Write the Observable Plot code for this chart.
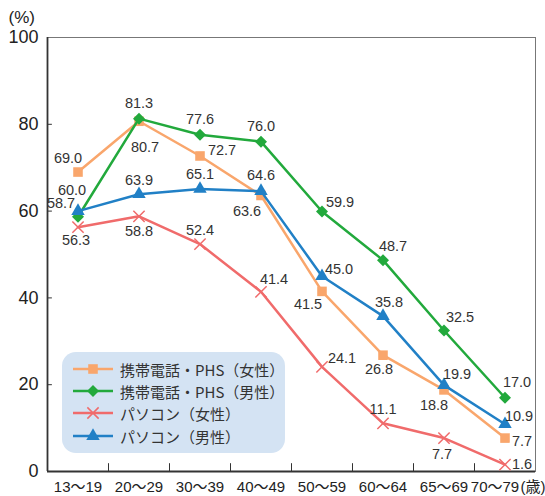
<!DOCTYPE html>
<html>
<head>
<meta charset="utf-8">
<script src="https://cdn.jsdelivr.net/npm/d3@7"></script>
<script src="https://cdn.jsdelivr.net/npm/@observablehq/plot@0.6"></script>
<style>
  body { margin: 0; background: #fff; }
  #wrap { position: relative; width: 545px; height: 496px; font-family: "Liberation Sans", "Noto Sans CJK JP", sans-serif; }
  #legend { position: absolute; left: 62px; top: 352px; width: 223px; height: 101px; background: #d4e3f3; border-radius: 14px; }
  .row { position: absolute; left: 11px; height: 20px; display: flex; align-items: center; }
  .row span { font-size: 15px; color: #333; margin-left: 7px; font-family: "Noto Sans CJK JP", sans-serif; white-space: nowrap; }
</style>
</head>
<body>
<div id="wrap"></div>
<script>
// ---- data ----
const categories = ["13〜19", "20〜29", "30〜39", "40〜49", "50〜59", "60〜64", "65〜69", "70〜79"];
const seriesNames = ["携帯電話・PHS（女性）", "携帯電話・PHS（男性）", "パソコン（女性）", "パソコン（男性）"];
const phoneFemale = [69.0, 80.7, 72.7, 63.6, 41.5, 26.8, 18.8, 7.7];
const phoneMale   = [58.7, 81.3, 77.6, 76.0, 59.9, 48.7, 32.5, 17.0];
const pcFemale    = [56.3, 58.8, 52.4, 41.4, 24.1, 11.1, 7.7, 1.6];
const pcMale      = [60.0, 63.9, 65.1, 64.6, 45.0, 35.8, 19.9, 10.9];
const yTicks = [0, 20, 40, 60, 80, 100];

// ---- styles ----
const colors = ["#f9a66c", "#22a93c", "#f06b6b", "#2180c6"];
const symbols = ["square", "diamond2", "times", "triangle"];
const symbolR = [5.4, 5.4, 5.2, 5];
// label offsets in pixels [dx, dy] per point
const labelOffsets = [
  [[-10,-14],[6,26],[22,-6],[-14,16],[-14,13],[-4,14],[-10,15],[17,3]],
  [[-17,-13],[0,-15],[0,-15],[0,-15],[18,-9],[10,-14],[16,-13],[12,-15]],
  [[-2,13],[0,15],[0,-14],[13,-12],[20,-9],[0,-14],[-2,16],[17,0]],
  [[-6,-21],[0,-14],[0,-15],[0,-16],[17,-7],[6,-14],[13,-11],[14,-8]]
];

const allValues = [phoneFemale, phoneMale, pcFemale, pcMale];
const rows = [];
allValues.forEach((vals, s) => vals.forEach((v, i) => rows.push({s, i, cat: categories[i], value: v})));

const font = "'Liberation Sans', 'Noto Sans CJK JP', sans-serif";
const marks = [];

// frame
marks.push(Plot.frame({stroke: "#777", strokeWidth: 1}));
marks.push(Plot.ruleX([-0.5], {stroke: "#333", strokeWidth: 1.8}));
marks.push(Plot.ruleY([0], {stroke: "#333", strokeWidth: 1.8}));
// y ticks inward
marks.push(Plot.ruleY(yTicks.filter(t => t > 0 && t < 100), {x1: -0.5, x2: -0.42, stroke: "#333", strokeWidth: 1}));
// x ticks at band boundaries
marks.push(Plot.ruleX(categories.slice(1).map((c, i) => i + 0.5), {y1: 0, y2: 1.8, stroke: "#333", strokeWidth: 1}));
// y labels
marks.push(Plot.text(yTicks, {x: -0.5, y: d => d, text: d => String(d), textAnchor: "end", dx: -9, fontSize: 18, fill: "#222"}));
// x labels
marks.push(Plot.text(categories.slice(0, 7), {x: (d, i) => i, y: 0, text: d => d, dy: 16, fontSize: 15, fill: "#222"}));
marks.push(Plot.text(categories.slice(7), {x: 7, y: 0, text: d => d, dy: 16, dx: -10, fontSize: 15, fill: "#222"}));
marks.push(Plot.text(["(歳)"], {x: 7.5, y: 0, text: d => d, dy: 16, dx: 10, textAnchor: "end", fontSize: 15, fill: "#222"}));
marks.push(Plot.text(["(%)"], {x: -0.5, y: 100, text: d => d, dy: -20, dx: -39, textAnchor: "start", fontSize: 17, fill: "#222"}));

// lines and markers
allValues.forEach((vals, s) => {
  const data = rows.filter(r => r.s === s);
  marks.push(Plot.line(data, {x: "i", y: "value", stroke: colors[s], strokeWidth: 2.5}));
  if (symbols[s] === "times") {
    marks.push(Plot.dot(data, {x: "i", y: "value", symbol: symbols[s], r: symbolR[s], stroke: colors[s], strokeWidth: 1.5}));
  } else {
    marks.push(Plot.dot(data, {x: "i", y: "value", symbol: symbols[s], r: symbolR[s], fill: colors[s], stroke: "none"}));
  }
});
// value labels
rows.forEach(r => {
  const [dx, dy] = labelOffsets[r.s][r.i];
  marks.push(Plot.text([r], {x: "i", y: "value", text: d => d.value.toFixed(1), dx, dy, fontSize: 14.5, fill: "#333"}));
});

const chart = Plot.plot({
  width: 545,
  height: 496,
  marginLeft: 47,
  marginRight: 10,
  marginTop: 37,
  marginBottom: 25,
  x: {domain: [-0.5, 7.5], axis: null},
  y: {domain: [0, 100], axis: null},
  style: {fontFamily: font, background: "#fff", overflow: "visible"},
  marks
});
const wrap = document.getElementById("wrap");
wrap.appendChild(chart);

// legend overlay
const legend = document.createElement("div");
legend.id = "legend";
wrap.appendChild(legend);
const rowTops = [7, 29, 51, 74];
seriesNames.forEach((name, s) => {
  const row = document.createElement("div");
  row.className = "row";
  row.style.top = rowTops[s] + "px";
  const svg = d3.create("svg").attr("width", 40).attr("height", 20);
  svg.append("line").attr("x1", 0).attr("x2", 40).attr("y1", 10).attr("y2", 10)
    .attr("stroke", colors[s]).attr("stroke-width", 2.5);
  const symMap = {square: d3.symbolSquare, diamond2: d3.symbolDiamond2, times: d3.symbolTimes, triangle: d3.symbolTriangle};
  const path = d3.symbol(symMap[symbols[s]], Math.PI * symbolR[s] * symbolR[s])();
  const p = svg.append("path").attr("d", path).attr("transform", "translate(20,10)");
  if (symbols[s] === "times") p.attr("fill", "none").attr("stroke", colors[s]).attr("stroke-width", 1.5);
  else p.attr("fill", colors[s]);
  row.appendChild(svg.node());
  const t = document.createElement("span");
  t.textContent = name;
  row.appendChild(t);
  legend.appendChild(row);
});
</script>
</body>
</html>
